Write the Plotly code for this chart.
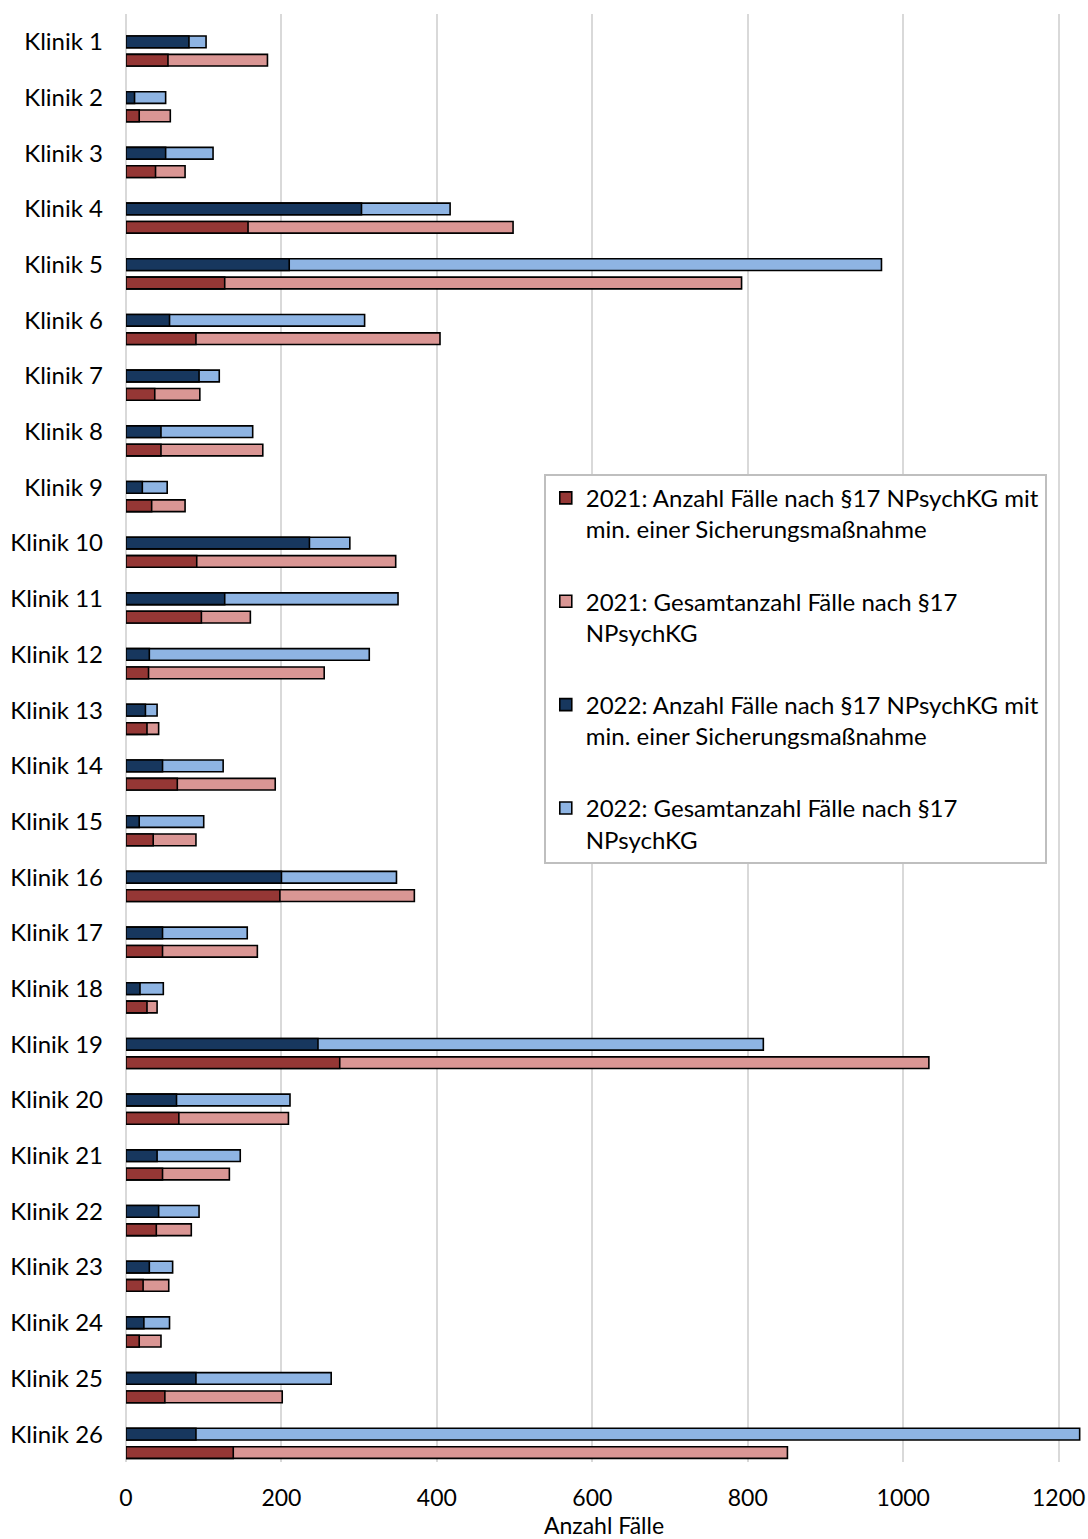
import plotly.graph_objects as go

kliniken = ["Klinik 1", "Klinik 2", "Klinik 3", "Klinik 4", "Klinik 5", "Klinik 6",
            "Klinik 7", "Klinik 8", "Klinik 9", "Klinik 10", "Klinik 11", "Klinik 12",
            "Klinik 13", "Klinik 14", "Klinik 15", "Klinik 16", "Klinik 17", "Klinik 18",
            "Klinik 19", "Klinik 20", "Klinik 21", "Klinik 22", "Klinik 23", "Klinik 24",
            "Klinik 25", "Klinik 26"]

sich_2022 = [81, 11, 51, 303, 210, 56, 94, 45, 21, 236, 127, 30, 25, 47, 17, 200, 47, 18,
             247, 65, 40, 42, 30, 23, 90, 90]
gesamt_2022 = [103, 51, 112, 417, 972, 307, 120, 163, 53, 288, 350, 313, 40, 125, 100, 348,
               156, 48, 820, 211, 147, 94, 60, 56, 264, 1227]
sich_2021 = [54, 17, 38, 157, 127, 90, 37, 45, 33, 91, 97, 29, 27, 66, 35, 198, 47, 27,
             275, 68, 47, 39, 22, 17, 50, 138]
gesamt_2021 = [182, 57, 76, 498, 792, 404, 95, 176, 76, 347, 160, 255, 42, 192, 90, 371,
               169, 40, 1033, 209, 133, 84, 55, 45, 201, 851]

x_ticks = [0, 200, 400, 600, 800, 1000, 1200]

names = {
    "s21": "2021: Anzahl Fälle nach §17 NPsychKG mit<br>min. einer Sicherungsmaßnahme",
    "g21": "2021: Gesamtanzahl Fälle nach §17<br>NPsychKG",
    "s22": "2022: Anzahl Fälle nach §17 NPsychKG mit<br>min. einer Sicherungsmaßnahme",
    "g22": "2022: Gesamtanzahl Fälle nach §17<br>NPsychKG",
}
colors = {"s21": "#953735", "g21": "#DA9694", "s22": "#17375E", "g22": "#8EB4E3"}

FONT = "Lato"
W = 0.21
off22 = -W / 2
off21 = 0.33 - W / 2

fig = go.Figure()
# draw order: totals first, then the subset on top
for key, vals, off, rank in [
    ("g21", gesamt_2021, off21, 2),
    ("s21", sich_2021, off21, 1),
    ("g22", gesamt_2022, off22, 4),
    ("s22", sich_2022, off22, 3),
]:
    fig.add_trace(go.Bar(
        x=vals, y=kliniken, orientation="h",
        name=names[key], legendgroup=key, legendrank=rank,
        width=W, offset=off,
        marker=dict(color=colors[key], line=dict(color="#000000", width=1.6)),
    ))

fig.update_layout(
    width=1088, height=1539,
    margin=dict(l=126, r=6, t=14, b=77),
    barmode="overlay",
    plot_bgcolor="white", paper_bgcolor="white",
    font=dict(family=FONT, size=24, color="#000000"),
    showlegend=True,
    legend=dict(
        x=0.437, y=0.6825, xanchor="left", yanchor="top",
        bgcolor="white", bordercolor="#BFBFBF", borderwidth=2,
        font=dict(family=FONT, size=24, color="#000000"),
        traceorder="grouped", tracegroupgap=38, valign="top",
    ),
)
fig.update_xaxes(
    range=[0, 1230], tickvals=x_ticks, automargin=False,
    showgrid=True, gridcolor="#D9D9D9", gridwidth=2,
    zeroline=True, zerolinecolor="#D9D9D9", zerolinewidth=2,
    showline=False, ticks="", ticklabelstandoff=20,
    tickfont=dict(family=FONT, size=23, color="#000000"),
    title=dict(text="Anzahl Fälle", font=dict(family=FONT, size=23, color="#000000"), standoff=8),
)
fig.update_yaxes(
    type="category", categoryorder="array", categoryarray=kliniken,
    range=[25.5, -0.5], showgrid=False, zeroline=False, showline=False,
    ticks="", ticklabelstandoff=22, automargin=False,
    tickfont=dict(family=FONT, size=24, color="#000000"),
)

fig.write_html("out.html")
